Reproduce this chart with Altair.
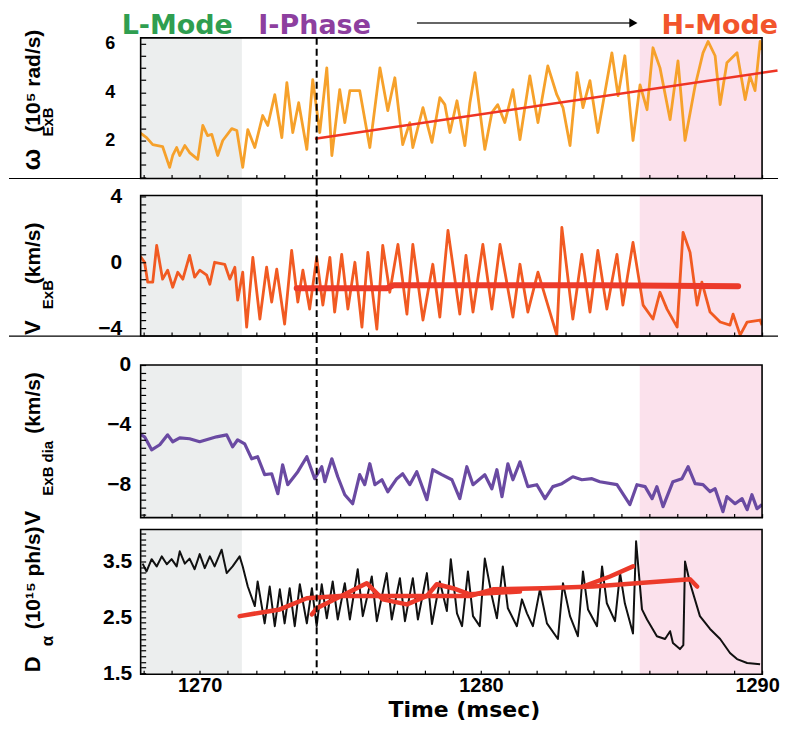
import altair as alt
import pandas as pd

# ---------------- data ----------------
X_DOMAIN = [1267.9, 1290.0]
regime_start = [1267.9, 1285.65]
regime_end = [1271.5, 1290.0]
regime_color = ["#eceeee", "#fbe1ec"]
iphase_time = [1274.16]

omega_points = [
    (1267.86, 2.34), (1268.11, 2.13), (1268.33, 1.84), (1268.68, 1.76), (1268.93, 0.90),
    (1269.04, 1.39), (1269.18, 1.72), (1269.29, 1.39), (1269.47, 1.80), (1269.64, 1.51),
    (1269.93, 1.23), (1270.11, 2.63), (1270.28, 2.21), (1270.43, 2.26), (1270.64, 1.39),
    (1270.82, 2.01), (1271.14, 2.50), (1271.32, 2.42), (1271.53, 0.90), (1271.71, 2.46),
    (1271.96, 1.72), (1272.24, 3.04), (1272.42, 2.63), (1272.67, 3.90), (1272.92, 2.13),
    (1273.10, 4.40), (1273.31, 2.34), (1273.52, 3.57), (1273.81, 1.64), (1274.02, 4.52),
    (1274.27, 2.34), (1274.52, 5.01), (1274.70, 1.39), (1274.98, 4.11), (1275.16, 2.75),
    (1275.34, 4.07), (1275.69, 4.07), (1276.05, 1.72), (1276.41, 5.01), (1276.69, 3.24),
    (1276.94, 4.60), (1277.22, 1.84), (1277.47, 2.75), (1277.58, 1.72), (1277.94, 3.37),
    (1278.26, 1.93), (1278.54, 3.78), (1278.72, 3.49), (1278.90, 2.34), (1279.15, 3.65),
    (1279.43, 1.80), (1279.61, 3.57), (1279.79, 4.81), (1280.14, 1.64), (1280.39, 3.16),
    (1280.60, 3.49), (1280.85, 2.75), (1281.14, 4.11), (1281.39, 2.05), (1281.74, 4.68),
    (1282.03, 2.75), (1282.38, 5.09), (1282.70, 3.90), (1282.92, 3.37), (1283.17, 1.80),
    (1283.42, 4.81), (1283.63, 3.37), (1283.88, 4.48), (1284.16, 2.34), (1284.66, 5.63),
    (1284.88, 3.86), (1285.12, 5.51), (1285.41, 2.01), (1285.66, 4.31), (1285.91, 3.28),
    (1286.12, 5.84), (1286.37, 5.01), (1286.73, 2.87), (1287.01, 5.30), (1287.26, 2.01),
    (1287.62, 4.27), (1287.90, 5.63), (1288.08, 6.10), (1288.33, 5.51), (1288.51, 3.49),
    (1288.75, 5.22), (1289.11, 5.63), (1289.40, 3.70), (1289.57, 4.68), (1289.75, 4.07),
    (1289.93, 6.10), (1290.00, 5.75),
]
omega_fit = [(1274.10, 2.08), (1290.55, 4.90)]

vexb_points = [
    (1267.86, 0.42), (1268.04, 0.00), (1268.15, -1.20), (1268.33, -1.20), (1268.47, 1.02),
    (1268.68, -1.02), (1268.86, -0.48), (1269.04, -1.51), (1269.22, -0.60), (1269.40, -1.02),
    (1269.64, 0.42), (1269.82, -0.90), (1270.00, -0.48), (1270.25, -0.78), (1270.36, -1.33),
    (1270.53, 0.00), (1270.89, -0.12), (1271.07, -1.02), (1271.25, -0.30), (1271.35, -2.29),
    (1271.53, -0.60), (1271.67, -3.92), (1271.89, 0.30), (1272.14, -3.43), (1272.38, -0.30),
    (1272.56, -2.41), (1272.74, -0.42), (1273.02, -3.73), (1273.27, 0.72), (1273.49, -2.41),
    (1273.67, -0.48), (1273.91, -2.83), (1274.16, 0.30), (1274.38, -2.59), (1274.63, 0.30),
    (1274.80, -3.01), (1275.05, 0.48), (1275.27, -2.83), (1275.52, 0.00), (1275.77, -3.92),
    (1275.98, 0.60), (1276.30, -4.04), (1276.51, 1.02), (1276.76, -1.81), (1277.05, 1.08),
    (1277.37, -3.13), (1277.58, 1.08), (1277.94, -3.49), (1278.29, -0.12), (1278.54, -3.31),
    (1278.83, 1.93), (1279.25, -3.13), (1279.47, 0.42), (1279.72, -3.01), (1280.07, 1.08),
    (1280.39, -2.83), (1280.68, 1.08), (1281.14, -3.31), (1281.39, -0.12), (1281.67, -3.01),
    (1282.03, -0.60), (1282.70, -4.40), (1282.88, 2.11), (1283.27, -3.43), (1283.59, 0.48),
    (1283.88, -3.01), (1284.16, 0.72), (1284.48, -2.83), (1284.84, 0.48), (1285.05, -2.59),
    (1285.41, 1.20), (1285.77, -2.59), (1286.12, -3.43), (1286.37, -1.81), (1286.62, -2.83),
    (1286.98, -3.92), (1287.19, 1.81), (1287.44, 0.60), (1287.69, -2.59), (1287.86, -1.20),
    (1288.15, -3.01), (1288.51, -3.61), (1288.86, -3.80), (1288.97, -3.13), (1289.22, -4.40),
    (1289.47, -3.61), (1289.93, -3.49), (1290.00, -3.80),
]
vexb_fit = [(1273.45, -1.57), (1276.65, -1.57), (1276.90, -1.39), (1284.20, -1.39), (1289.15, -1.45)]

vdia_points = [
    (1267.86, -4.60), (1268.04, -4.80), (1268.29, -5.67), (1268.58, -5.33), (1268.86, -4.67),
    (1269.04, -5.13), (1269.29, -4.87), (1269.64, -4.93), (1270.00, -5.13), (1270.60, -4.80),
    (1270.96, -4.67), (1271.17, -5.47), (1271.35, -5.00), (1271.60, -5.27), (1271.85, -6.27),
    (1272.06, -6.13), (1272.31, -7.33), (1272.56, -7.27), (1272.78, -8.60), (1272.95, -6.67),
    (1273.13, -8.00), (1273.49, -7.13), (1273.81, -6.13), (1274.09, -7.60), (1274.34, -6.80),
    (1274.45, -7.80), (1274.70, -6.27), (1274.91, -7.47), (1275.16, -8.67), (1275.44, -9.27),
    (1275.69, -7.33), (1275.87, -8.00), (1276.05, -6.60), (1276.23, -8.00), (1276.48, -7.67),
    (1276.69, -8.47), (1277.01, -7.60), (1277.22, -7.27), (1277.47, -8.00), (1277.72, -7.13),
    (1278.08, -9.00), (1278.29, -7.00), (1278.61, -7.33), (1278.97, -7.67), (1279.25, -8.93),
    (1279.50, -6.80), (1279.72, -8.00), (1280.14, -7.33), (1280.39, -8.27), (1280.57, -7.00),
    (1280.75, -8.80), (1280.96, -6.60), (1281.14, -7.67), (1281.39, -6.47), (1281.67, -8.13),
    (1281.99, -8.00), (1282.28, -8.93), (1282.56, -8.13), (1282.88, -7.93), (1283.27, -7.47),
    (1283.59, -7.67), (1283.95, -7.60), (1284.23, -7.80), (1284.84, -8.00), (1285.30, -9.33),
    (1285.55, -8.00), (1285.84, -8.13), (1286.09, -8.93), (1286.26, -8.13), (1286.48, -9.47),
    (1286.83, -7.80), (1287.15, -7.60), (1287.37, -6.80), (1287.62, -7.93), (1287.90, -8.00),
    (1288.15, -8.47), (1288.33, -8.27), (1288.61, -9.80), (1288.75, -8.80), (1289.04, -9.27),
    (1289.29, -8.93), (1289.47, -9.67), (1289.64, -8.67), (1289.82, -9.60), (1290.00, -9.33),
]

dalpha_points = [
    (1267.97, 3.46), (1268.11, 3.32), (1268.29, 3.54), (1268.47, 3.41), (1268.65, 3.59),
    (1268.83, 3.45), (1269.00, 3.54), (1269.18, 3.41), (1269.29, 3.68), (1269.47, 3.46),
    (1269.64, 3.55), (1269.82, 3.36), (1270.00, 3.63), (1270.18, 3.38), (1270.36, 3.59),
    (1270.53, 3.41), (1270.78, 3.71), (1270.96, 3.29), (1271.17, 3.41), (1271.42, 3.59),
    (1271.53, 3.41), (1271.71, 3.05), (1271.96, 2.70), (1272.06, 3.14), (1272.31, 2.39),
    (1272.49, 3.05), (1272.67, 2.34), (1272.85, 3.00), (1273.02, 2.39), (1273.20, 3.02),
    (1273.38, 2.34), (1273.56, 3.09), (1273.81, 2.39), (1273.99, 3.02), (1274.16, 2.34),
    (1274.34, 3.09), (1274.52, 2.48), (1274.73, 3.14), (1274.91, 2.46), (1275.16, 3.11),
    (1275.34, 2.46), (1275.62, 3.36), (1275.80, 2.52), (1276.12, 3.23), (1276.30, 2.43),
    (1276.65, 3.29), (1276.83, 2.46), (1277.12, 3.20), (1277.30, 2.43), (1277.58, 3.20),
    (1277.76, 2.46), (1278.08, 3.29), (1278.26, 2.38), (1278.54, 3.14), (1278.79, 2.61),
    (1278.93, 3.54), (1279.15, 2.57), (1279.33, 2.34), (1279.54, 3.32), (1279.72, 2.52),
    (1279.96, 2.34), (1280.14, 3.55), (1280.39, 2.88), (1280.57, 2.48), (1280.78, 3.41),
    (1280.96, 2.66), (1281.28, 2.34), (1281.46, 2.82), (1281.64, 2.57), (1281.85, 2.34),
    (1282.10, 3.00), (1282.35, 2.39), (1282.74, 2.11), (1282.92, 3.11), (1283.17, 2.52),
    (1283.45, 2.16), (1283.63, 3.32), (1283.81, 2.64), (1284.13, 2.34), (1284.31, 3.41),
    (1284.48, 2.75), (1284.77, 2.43), (1284.95, 3.29), (1285.12, 2.75), (1285.41, 2.21),
    (1285.52, 3.86), (1285.73, 2.64), (1285.91, 2.46), (1286.26, 2.16), (1286.55, 2.11),
    (1286.73, 2.25), (1286.83, 2.04), (1287.08, 1.93), (1287.20, 2.00), (1287.26, 3.50),
    (1287.44, 3.11), (1287.79, 2.52), (1288.15, 2.29), (1288.51, 2.11), (1288.86, 1.86),
    (1289.11, 1.75), (1289.47, 1.68), (1289.93, 1.66),
]
# hand-drawn red strokes on the D-alpha panel (stroke id, time, value)
dalpha_fit = [
    ("a", 1271.42, 2.52), ("a", 1272.85, 2.64), ("a", 1273.81, 2.84), ("a", 1274.98, 2.88),
    ("a", 1278.54, 2.88), ("a", 1279.61, 2.88), ("a", 1280.43, 3.00), ("a", 1282.21, 3.02),
    ("a", 1283.99, 3.05), ("a", 1286.37, 3.14), ("a", 1287.44, 3.18), ("a", 1287.69, 3.05),
    ("b", 1273.99, 2.55), ("b", 1274.16, 2.66), ("b", 1275.23, 2.93), ("b", 1275.94, 3.11),
    ("b", 1276.51, 2.82), ("b", 1277.37, 2.73), ("b", 1278.08, 2.88), ("b", 1278.43, 3.09),
    ("b", 1279.00, 3.02), ("b", 1279.61, 2.91), ("b", 1281.39, 2.96),
    ("c", 1283.63, 3.05), ("c", 1284.59, 3.23), ("c", 1285.41, 3.41),
]

W = 623
FONT = "Liberation Sans"
HEAD_FONT = "DejaVu Sans"
DUMMY = pd.DataFrame({"k": [0]})


def pts(points):
    return pd.DataFrame(points, columns=["t", "v"])


def xenc(bottom, extra):
    ax = alt.Axis(
        values=list(range(1268, 1291)), tickSize=4, offset=-4 - extra, domain=False, grid=False,
        labels=bottom, format="d", labelExpr="datum.value % 10 == 0 ? datum.label : ''",
        labelFont=FONT, labelFontWeight="bold", labelFontSize=20, labelColor="black",
        labelPadding=1, labelFlush=False, labelOverlap=False,
        labelOffset={"condition": {"test": "datum.value == 1290", "value": -5}, "value": 0},
        tickColor="black", tickWidth=1.2, zindex=1,
        title="Time (msec)" if bottom else None,
        titleFont=HEAD_FONT, titleFontWeight="bold", titleFontSize=22, titleColor="black",
        titleBaseline="alphabetic", titleY=46, titleX=324,
    )
    return alt.X("t:Q", scale=alt.Scale(domain=X_DOMAIN, nice=False, zero=False), axis=ax)


def yenc(domain, hf, values, majors, fmt, lsize, lpad):
    expr = "indexof(" + str(majors) + ", datum.value) >= 0 ? datum.label : ''"
    ax = alt.Axis(
        values=values, labelExpr=expr, format=fmt, tickSize=5, offset=-5, domain=False,
        grid=False, labelFont=FONT, labelFontWeight="bold", labelFontSize=lsize,
        labelColor="black", labelPadding=lpad, labelOverlap=False, tickColor="black",
        tickWidth=1.2, zindex=1, title=None,
    )
    return alt.Y("v:Q", scale=alt.Scale(domain=domain, range=[hf, 0], nice=False, zero=False), axis=ax)


def ytitle(pieces):
    layers = []
    for text, dx, dy, size in pieces:
        layers.append(
            alt.Chart(DUMMY).mark_text(
                text=text, angle=270, align="left", baseline="alphabetic", font=FONT,
                fontWeight="bold", fontSize=size, color="black",
            ).encode(x=alt.value(dx), y=alt.value(dy))
        )
    return layers


def panel(points, color, lw, hf, hv, ydom, yvals, ymajor, yfmt, lsize, lpad, gap, titles,
          bottom=False, extra=()):
    x = xenc(bottom, hv - hf)
    y = yenc(ydom, hf, yvals, ymajor, yfmt, lsize, lpad)
    regimes = pd.DataFrame({"t": regime_start, "t2": regime_end, "c": regime_color})
    shade = alt.Chart(regimes).mark_rect().encode(
        x=x, x2="t2:Q", y=alt.value(0), y2=alt.value(hf),
        color=alt.Color("c:N", scale=None),
    )
    line = alt.Chart(pts(points)).mark_line(
        color=color, strokeWidth=lw, clip=True, strokeJoin="round"
    ).encode(x=x, y=y)
    dash = alt.Chart(pd.DataFrame({"t": iphase_time})).mark_rule(
        color="black", strokeWidth=2, strokeDash=[7, 4]
    ).encode(x=x, y=alt.value(-gap), y2=alt.value(hf))
    frame = alt.Chart(DUMMY).mark_rect(
        fillOpacity=0, stroke="black", strokeWidth=1.6
    ).encode(x=alt.value(0), x2=alt.value(W), y=alt.value(0), y2=alt.value(hf))
    layers = [shade, line] + [e(x, y) for e in extra] + [dash, frame] + ytitle(titles)
    return alt.layer(*layers).properties(width=W, height=hv)


def omega_fit_layer(x, y):
    return alt.Chart(pts(omega_fit)).mark_line(color="#ee3424", strokeWidth=2.5, clip=False).encode(x=x, y=y)


def vexb_fit_layer(x, y):
    return alt.Chart(pts(vexb_fit)).mark_line(
        color="#ec3a2a", strokeWidth=6, strokeCap="round", strokeJoin="round"
    ).encode(x=x, y=y)


def dalpha_fit_layer(x, y):
    df = pd.DataFrame(dalpha_fit, columns=["s", "t", "v"])
    return alt.Chart(df).mark_line(
        color="#ec3a2a", strokeWidth=4.5, strokeCap="round", strokeJoin="round"
    ).encode(x=x, y=y, detail="s:N")


def frame_line(h):
    return lambda x, y: alt.Chart(DUMMY).mark_rule(color="black", strokeWidth=1.2).encode(
        x=alt.value(-132), x2=alt.value(639), y=alt.value(h)
    )


def header(x, y):
    kw = dict(align="left", baseline="alphabetic", font=HEAD_FONT, fontWeight="bold", fontSize=27)
    return alt.layer(
        # invisible guide that keeps the headline's full glyph box inside the page
        alt.Chart(DUMMY).mark_rule(opacity=0).encode(
            x=alt.value(0), x2=alt.value(10), y=alt.value(-29)),
        alt.Chart(DUMMY).mark_text(text="L-Mode", color="#2f9e50", **kw).encode(
            x=alt.value(-19), y=alt.value(-4)),
        alt.Chart(DUMMY).mark_text(text="I-Phase", color="#8d3f9f", **kw).encode(
            x=alt.value(118), y=alt.value(-4)),
        alt.Chart(DUMMY).mark_rule(color="#333333", strokeWidth=1.5).encode(
            x=alt.value(277), x2=alt.value(494), y=alt.value(-15)),
        alt.Chart(DUMMY).mark_point(shape="triangle-right", filled=True, size=90,
                                    color="black", opacity=1).encode(
            x=alt.value(494), y=alt.value(-15)),
        alt.Chart(DUMMY).mark_text(text="H-Mode", color="#f2552c",
                                   **dict(kw, align="right")).encode(
            x=alt.value(639), y=alt.value(-4)),
    )


def steps(lo, hi, d):
    n = int(round((hi - lo) / d))
    return [round(lo + i * d, 2) for i in range(n + 1)]


p1 = panel(
    omega_points, "#f6a12b", 2.8, 141, 146, [0.44, 6.25], steps(0.5, 6.0, 0.5), [2, 4, 6], "~g", 18, 26, 0,
    [("ω", -101, 133, 26), ("ExB", -88, 99, 15), ("(10⁵ rad/s)", -101, 95, 21)],
    extra=(omega_fit_layer, frame_line(141), header),
)
p2 = panel(
    vexb_points, "#f15a22", 2.8, 141, 158, [-4.46, 4.04], steps(-4.0, 4.0, 0.5), [-4, 0, 4], "~g", 21, 19, 17,
    [("V", -101, 140, 22), ("ExB", -88, 114, 15), ("(km/s)", -101, 89, 21)],
    extra=(vexb_fit_layer, frame_line(141)),
)
p3 = panel(
    vdia_points, "#6a4aa2", 3.2, 153, 153, [-10.2, 0.0], steps(-10.0, 0.0, 0.5), [-8, -4, 0], "~g", 21, 10, 29,
    [("V", -101, 161, 22), ("ExB dia", -88, 131, 15), ("(km/s)", -101, 69, 21)],
)
p4 = panel(
    dalpha_points, "#111111", 2, 145, 145, [1.48, 4.07], steps(1.5, 4.0, 0.1), [1.5, 2.5, 3.5], ".1f", 21, 9, 12,
    [("D", -101, 143, 22), ("α", -88, 117, 17), ("(10¹⁵ ph/s)", -101, 100, 21)],
    bottom=True, extra=(dalpha_fit_layer,),
)

chart = alt.vconcat(p1, p2, p3, p4, spacing=12, bounds="flush").properties(
    padding=0, background="white"
).configure_view(strokeWidth=0)

chart.save("out.html", embed_options={"renderer": "svg", "actions": False})
